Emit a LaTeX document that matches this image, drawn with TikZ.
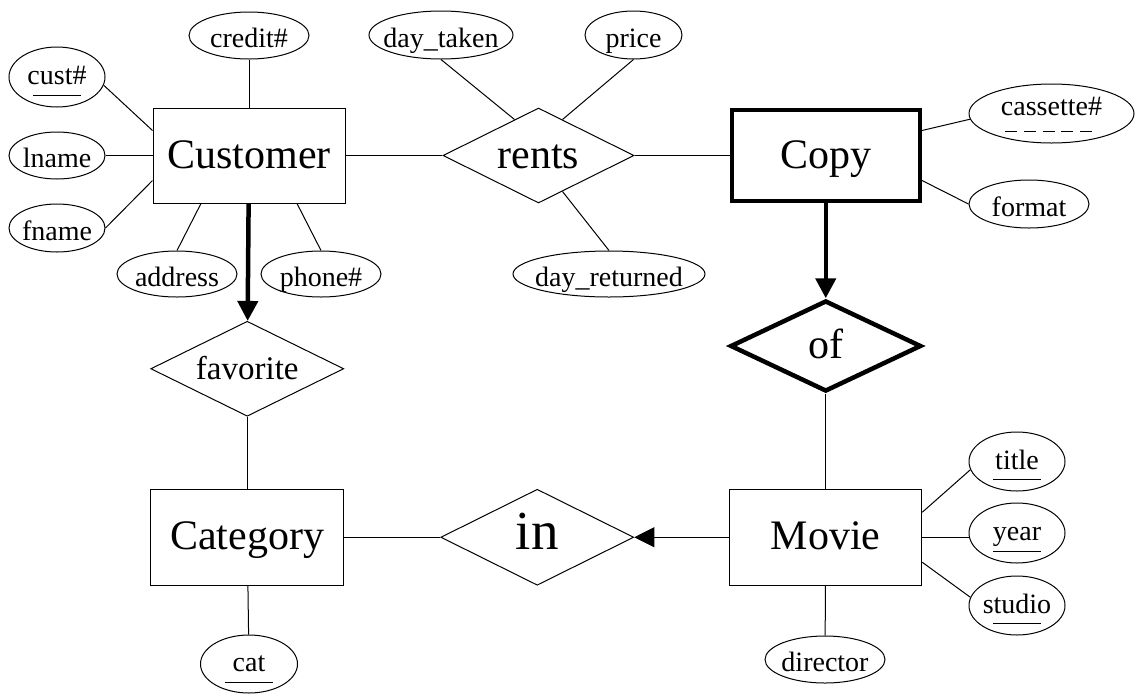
\documentclass[tikz,border=0pt]{standalone}
\usepackage{fontspec}
\setmainfont{Liberation Serif}
\usetikzlibrary{arrows.meta,positioning,shapes.geometric,calc}
\tikzset{
  entity/.style={draw, rectangle, line width=1pt, inner sep=0pt,
                 minimum width=192pt, minimum height=95pt,
                 font=\fontsize{42}{48}\selectfont, text height=31.5pt, text depth=6.3pt},
  relation/.style={entity, diamond},
  attr/.style={draw, ellipse, line width=1pt, inner sep=0pt,
               minimum width=120pt, minimum height=47pt,
               font=\fontsize{28}{32}\selectfont, text height=24pt, text depth=0pt},
  keyattr/.style={attr, minimum width=96pt, minimum height=60pt,
                  text height=19.5pt, text depth=4.5pt},
  link/.style={line width=1pt},
  flow/.style={-{Triangle[length=20pt,width=20pt]}},
}
\newcommand{\nb}[1]{\makebox[0pt]{#1}}

\begin{document}
\begin{tikzpicture}[x=1pt,y=-1pt]
  \useasboundingbox (0,0) rectangle (1135,694);
  % entities and relationships
  \node[entity] (customer) at (249,155.5) {Customer};
  \node[relation, minimum width=191pt, right=97pt of customer] (rents) {\nb{rents}};
  \node[entity, line width=4.5pt, minimum width=188pt, minimum height=91pt, right=95pt of rents] (copy) {Copy};
  \node[relation, line width=4.5pt, minimum width=191pt, minimum height=91pt, below=95pt of copy] (of) {\nb{of}};
  \node[entity, minimum height=96pt, below=95pt of of] (movie) {Movie};
  \node[relation, minimum width=193pt, minimum height=96pt, left=95pt of movie,
        font=\fontsize{55}{60}\selectfont, text height=40pt, text depth=15pt] (in) {\nb{in}};
  \node[entity, minimum width=193pt, minimum height=96pt, left=96pt of in] (category) {Category};
  \node[relation, minimum width=193pt, above=72pt of category,
        font=\fontsize{33}{38}\selectfont, text height=25pt, text depth=3pt] (favorite) {\nb{favorite}};
  % attributes
  \node[attr] (credit) at (249,35.5) {\nb{credit\#}};
  \node[keyattr] (custno) at (57,77) {\nb{cust\#}};
  \node[attr, minimum width=96pt] (lname) at (57,155.5) {\nb{lname}};
  \node[attr, minimum width=96pt, minimum height=48pt] (fname) at (57,228) {\nb{fname}};
  \node[attr, minimum height=46pt] (address) at (177,274) {\nb{address}};
  \node[attr, minimum height=46pt] (phone) at (321,274) {\nb{phone\#}};
  \node[attr, minimum width=144pt, minimum height=48pt] (taken) at (441,35) {\nb{day\_taken}};
  \node[attr, minimum width=97pt, minimum height=48pt] (price) at (633.5,35) {\nb{price}};
  \node[attr, minimum width=192pt, minimum height=46pt] (returned) at (609,274) {\nb{day\_returned}};
  \node[attr, minimum width=165pt, minimum height=59pt, text height=14pt, text depth=11pt] (cassette) at (1051.5,113.5) {\nb{cassette\#}};
  \node[attr, minimum height=48pt] (format) at (1029,204) {\nb{format}};
  \node[keyattr, minimum height=59pt] (title) at (1017,461.5) {\nb{title}};
  \node[keyattr] (year) at (1017,533) {\nb{year}};
  \node[keyattr, minimum height=59pt] (studio) at (1017,605.5) {\nb{studio}};
  \node[attr] (director) at (825,659.5) {\nb{director}};
  \node[keyattr, minimum width=97pt, minimum height=58pt] (cat) at (249,664) {\nb{cat}};
  % key underlines
  \foreach \k in {custno,title,year,studio,cat}
    \draw[link] ([shift={(-24pt,-18pt)}]\k.center) -- ++(48pt,0);
  \draw[link, dash pattern=on 12pt off 6.75pt] ([shift={(-46.5pt,-17.5pt)}]cassette.center) -- ++(87pt,0);
  % connectors
  \draw[link] (credit) -- (customer);
  \draw[link] (custno.-10) -- ([yshift=25pt]customer.west);
  \draw[link] (lname) -- (customer);
  \draw[link] (fname.east) -- ([yshift=-25pt]customer.west);
  \draw[link] (address.north) -- ([xshift=-48pt]customer.south);
  \draw[link] (phone.north) -- ([xshift=48pt]customer.south);
  \draw[link] (customer) -- (rents);
  \draw[link] (rents) -- (copy);
  \draw[link] (taken.south) -- ($(rents.north)!0.25!(rents.west)$);
  \draw[link] (price.south) -- ($(rents.north)!0.25!(rents.east)$);
  \draw[link] (returned.north) -- ($(rents.south)!0.25!(rents.east)$);
  \draw[link] (cassette.184) -- ([yshift=25pt]copy.east);
  \draw[link] (format.west) -- ([yshift=-25pt]copy.east);
  \draw[link, line width=4.5pt, flow] (copy) -- (of);
  \draw[link] (of) -- (movie);
  \draw[link] (title.190) -- ([yshift=25pt]movie.east);
  \draw[link] (movie.east) -- (movie.east -| year.west);
  \draw[link] (studio.170) -- ([yshift=-25pt]movie.east);
  \draw[link] (movie) -- (director);
  \draw[link, flow] (movie) -- (in);
  \draw[link] (category) -- (in);
  \draw[link, line width=4.5pt, flow] (customer) -- (favorite);
  \draw[link] (favorite) -- (category);
  \draw[link] (category) -- (cat);
\end{tikzpicture}
\end{document}
